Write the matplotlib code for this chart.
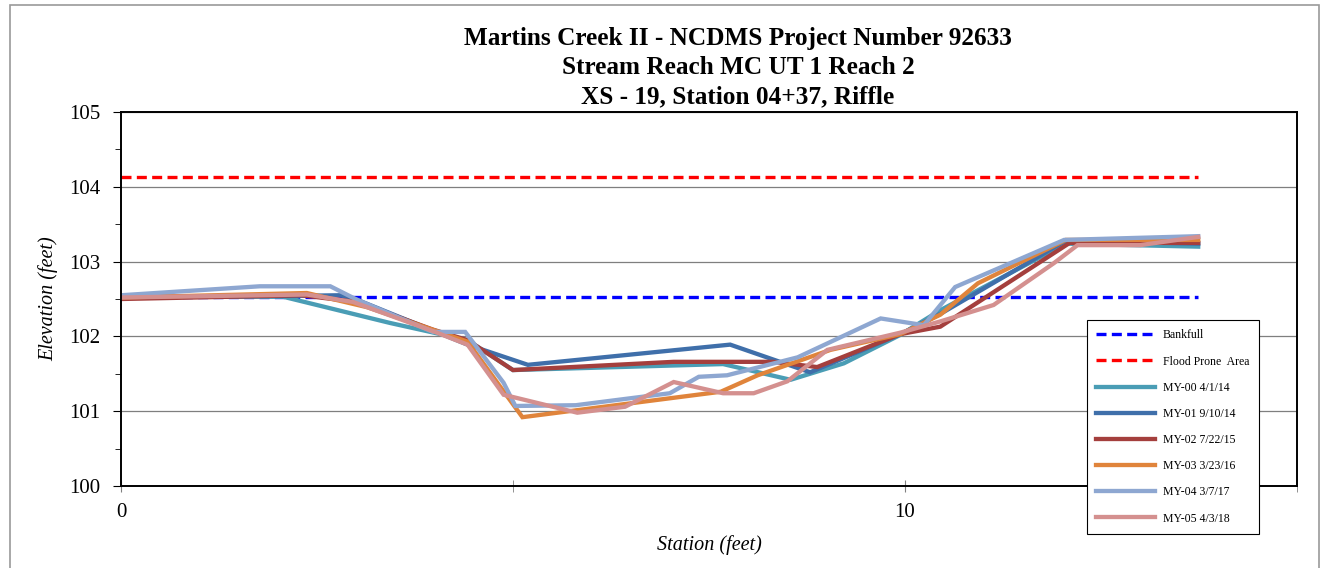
import numpy as np
import matplotlib.pyplot as plt
from matplotlib.patches import Rectangle
from matplotlib.ticker import MultipleLocator

plt.rcParams['font.family'] = ['Liberation Serif', 'DejaVu Serif']

# reference lines
bankfull_x = [0, 13.74]
bankfull_y = [102.53, 102.53]
flood_x = [0, 13.74]
flood_y = [104.13, 104.13]

# survey cross-sections (station, elevation)
my00_x = [0, 2.07, 3.43, 4.42, 5.0, 7.68, 8.54, 9.22, 9.94, 10.45, 12.05, 13.74]
my00_y = [102.53, 102.53, 102.18, 101.95, 101.55, 101.63, 101.42, 101.64, 102.02, 102.35, 103.24, 103.2]

my01_x = [0, 2.07, 2.8, 3.01, 4.42, 5.19, 7.77, 8.79, 9.94, 10.45, 12.05, 13.74]
my01_y = [102.53, 102.54, 102.55, 102.49, 101.89, 101.62, 101.89, 101.52, 102.03, 102.3, 103.28, 103.24]

my02_x = [0, 2.3, 3.01, 3.98, 4.42, 5.0, 7.05, 8.32, 8.88, 9.94, 10.45, 12.1, 13.74]
my02_y = [102.5, 102.55, 102.46, 102.09, 101.95, 101.55, 101.66, 101.66, 101.59, 102.03, 102.13, 103.25, 103.25]

my03_x = [0, 2.37, 3.14, 4.42, 5.12, 7.65, 8.12, 9.05, 9.94, 10.45, 10.93, 12.05, 13.74]
my03_y = [102.52, 102.58, 102.39, 101.93, 100.92, 101.26, 101.48, 101.82, 102.03, 102.29, 102.71, 103.29, 103.29]

my04_x = [0, 1.77, 2.67, 3.01, 3.98, 4.39, 4.88, 5.03, 5.8, 7.0, 7.37, 7.73, 8.63, 9.69, 10.24, 10.64, 12.03, 13.74]
my04_y = [102.55, 102.67, 102.67, 102.49, 102.06, 102.06, 101.38, 101.07, 101.08, 101.24, 101.46, 101.48, 101.72, 102.24, 102.15, 102.66, 103.29, 103.34]

my05_x = [0, 2.37, 2.96, 3.98, 4.42, 4.88, 5.82, 6.43, 7.05, 7.68, 8.07, 8.5, 9.01, 9.94, 10.45, 11.13, 11.9, 12.2, 13.0, 13.74]
my05_y = [102.52, 102.56, 102.46, 102.07, 101.89, 101.22, 100.98, 101.06, 101.39, 101.24, 101.24, 101.4, 101.82, 102.05, 102.2, 102.42, 102.98, 103.22, 103.22, 103.33]

series = [
    ('MY-00 4/1/14', my00_x, my00_y, '#4A9DB5'),
    ('MY-01 9/10/14', my01_x, my01_y, '#3F6FAA'),
    ('MY-02 7/22/15', my02_x, my02_y, '#A43F3D'),
    ('MY-03 3/23/16', my03_x, my03_y, '#E0843B'),
    ('MY-04 3/7/17', my04_x, my04_y, '#8EA7D1'),
    ('MY-05 4/3/18', my05_x, my05_y, '#D4908F'),
]

fig = plt.figure(figsize=(13.24, 5.68), dpi=100)
ax = fig.add_axes([121/1324, 1 - 486/568, (1297 - 121)/1324, (486 - 112)/568])

ax.plot(bankfull_x, bankfull_y, color='#0000FF', lw=2.4, ls=(0, (3, 1.6)), label='Bankfull')
ax.plot(flood_x, flood_y, color='#FF0000', lw=2.4, ls=(0, (3, 1.6)), label='Flood Prone  Area')
for name, xs, ys, c in series:
    ax.plot(xs, ys, color=c, lw=3.1, label=name, solid_joinstyle='miter')

ax.set_xlim(0, 15)
ax.set_ylim(100, 105)
ax.xaxis.set_major_locator(MultipleLocator(10))
ax.xaxis.set_minor_locator(MultipleLocator(5))
ax.yaxis.set_major_locator(MultipleLocator(1))
ax.yaxis.set_minor_locator(MultipleLocator(0.5))
ax.grid(axis='y', which='major', color='#7f7f7f', lw=0.9)
ax.set_axisbelow(True)
ax.tick_params(axis='both', which='major', labelsize=15, direction='out', length=6)
ax.tick_params(axis='y', which='major', pad=9)
ax.tick_params(axis='y', which='minor', direction='out', length=4)
ax.tick_params(axis='x', which='both', direction='inout', length=8, pad=8, colors='#808080', labelcolor='black')
for s in ax.spines.values():
    s.set_color('black')
    s.set_linewidth(1.4)

ax.set_xlabel('Station (feet)', fontsize=14.5, style='italic', labelpad=10)
ax.set_ylabel('Elevation (feet)', fontsize=14.5, style='italic', labelpad=8)

title_lines = ['Martins Creek II - NCDMS Project Number 92633',
               'Stream Reach MC UT 1 Reach 2',
               'XS - 19, Station 04+37, Riffle']
for i, t in enumerate(title_lines):
    fig.text(738/1324, 1 - (39 + 29*i)/568, t, ha='center', va='center',
             fontsize=18.2, fontweight='bold')

leg = ax.legend(loc='upper left', bbox_to_anchor=(1087/1324, 1 - 320/568), bbox_transform=fig.transFigure,
                fontsize=8.5, frameon=True, fancybox=False, framealpha=1, edgecolor='black',
                handlelength=5.0, labelspacing=1.2, borderpad=0.8, handletextpad=0.6,
                borderaxespad=0)
leg.get_frame().set_linewidth(0.8)
leg.set_zorder(10)

fig.patches.append(Rectangle((10/1324, -0.01), 1309/1324, 1 - 5/568 + 0.01, transform=fig.transFigure,
                             fill=False, edgecolor='#9a9a9a', lw=1.2))

fig.savefig('out.png', dpi=100)
